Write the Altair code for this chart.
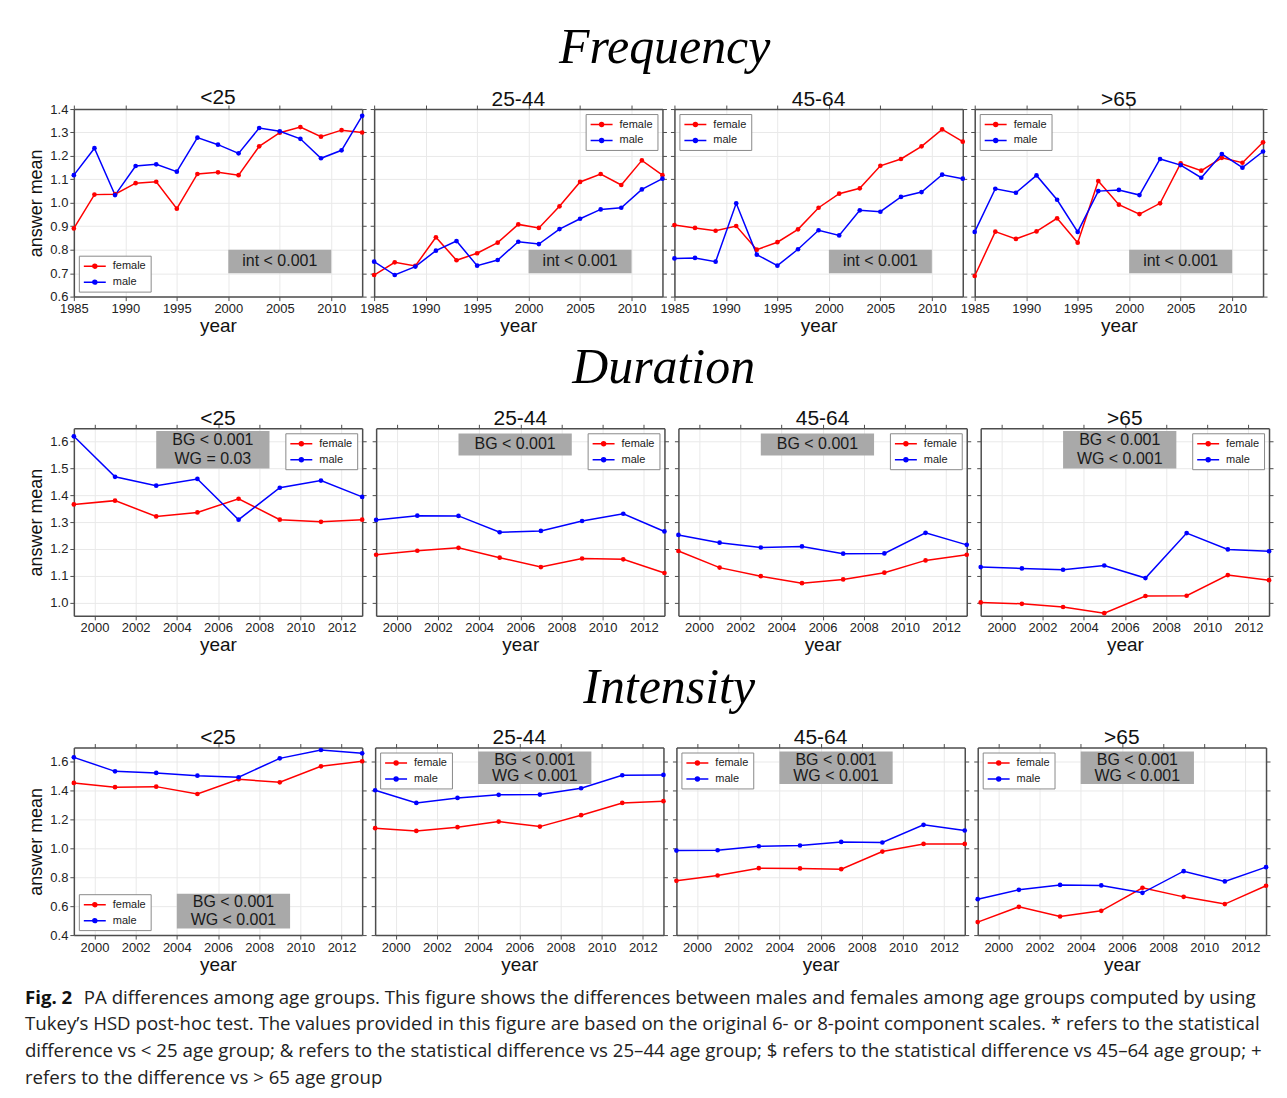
import altair as alt
import pandas as pd

AGE_GROUPS = ["<25", "25-44", "45-64", ">65"]
SEXES = ["female", "male"]
COLORS = ["#ff0000", "#0000ff"]

# ---------------- Frequency ----------------
freq_years = [1985, 1987, 1989, 1991, 1993, 1995, 1997, 1999, 2001, 2003, 2005, 2007, 2009, 2011, 2013]
freq_lt25_female = [0.891, 1.035, 1.037, 1.084, 1.090, 0.975, 1.123, 1.130, 1.118, 1.241, 1.299, 1.323, 1.282, 1.310, 1.300]
freq_lt25_male = [1.118, 1.233, 1.033, 1.157, 1.164, 1.133, 1.278, 1.248, 1.211, 1.319, 1.305, 1.273, 1.190, 1.224, 1.371]
freq_25_44_female = [0.692, 0.746, 0.731, 0.853, 0.755, 0.785, 0.830, 0.908, 0.893, 0.985, 1.089, 1.123, 1.076, 1.181, 1.118]
freq_25_44_male = [0.749, 0.692, 0.728, 0.796, 0.837, 0.732, 0.756, 0.834, 0.824, 0.888, 0.932, 0.972, 0.979, 1.057, 1.103]
freq_45_64_female = [0.905, 0.893, 0.881, 0.901, 0.800, 0.832, 0.887, 0.979, 1.039, 1.062, 1.158, 1.187, 1.241, 1.313, 1.261]
freq_45_64_male = [0.763, 0.765, 0.749, 0.998, 0.779, 0.732, 0.802, 0.883, 0.861, 0.968, 0.962, 1.025, 1.046, 1.120, 1.103]
freq_gt65_female = [0.688, 0.877, 0.846, 0.878, 0.934, 0.830, 1.093, 0.992, 0.952, 0.998, 1.168, 1.137, 1.192, 1.171, 1.258]
freq_gt65_male = [0.876, 1.060, 1.043, 1.117, 1.013, 0.876, 1.050, 1.055, 1.033, 1.187, 1.161, 1.107, 1.208, 1.150, 1.219]
freq_xticks = [1985, 1990, 1995, 2000, 2005, 2010]
freq_yticks = [0.6, 0.7, 0.8, 0.9, 1.0, 1.1, 1.2, 1.3, 1.4]
freq_legend = ["bottom-left", "top-right", "top-left", "top-left"]
freq_note = ["int < 0.001", "int < 0.001", "int < 0.001", "int < 0.001"]
freq_note_x = [2000, 2010]
freq_note_y0 = [0.7, 0.7, 0.7, 0.7]
freq_note_y1 = [0.8, 0.8, 0.8, 0.8]

# ---------------- Duration ----------------
dur_years = [1999, 2001, 2003, 2005, 2007, 2009, 2011, 2013]
dur_lt25_female = [1.366, 1.380, 1.321, 1.336, 1.387, 1.309, 1.301, 1.309]
dur_lt25_male = [1.620, 1.469, 1.436, 1.461, 1.309, 1.428, 1.455, 1.394]
dur_25_44_female = [1.178, 1.193, 1.204, 1.167, 1.132, 1.164, 1.161, 1.110]
dur_25_44_male = [1.308, 1.324, 1.323, 1.262, 1.267, 1.304, 1.331, 1.265]
dur_45_64_female = [1.192, 1.130, 1.098, 1.072, 1.086, 1.111, 1.157, 1.178]
dur_45_64_male = [1.252, 1.223, 1.205, 1.209, 1.182, 1.183, 1.260, 1.215]
dur_gt65_female = [1.000, 0.995, 0.983, 0.960, 1.024, 1.025, 1.102, 1.083]
dur_gt65_male = [1.132, 1.127, 1.122, 1.138, 1.091, 1.259, 1.198, 1.191]
dur_xticks = [2000, 2002, 2004, 2006, 2008, 2010, 2012]
dur_yticks = [1.0, 1.1, 1.2, 1.3, 1.4, 1.5, 1.6]
dur_legend = ["top-right", "top-right", "top-right", "top-right"]
dur_note = ["BG < 0.001\nWG = 0.03", "BG < 0.001", "BG < 0.001", "BG < 0.001\nWG < 0.001"]
dur_note_x = [2003, 2008.5]
dur_note_y0 = [1.500, 1.548, 1.548, 1.500]
dur_note_y1 = [1.640, 1.631, 1.631, 1.640]

# ---------------- Intensity ----------------
int_years = [1999, 2001, 2003, 2005, 2007, 2009, 2011, 2013]
int_lt25_female = [1.455, 1.425, 1.429, 1.378, 1.480, 1.459, 1.570, 1.605]
int_lt25_male = [1.632, 1.535, 1.524, 1.505, 1.494, 1.625, 1.683, 1.660]
int_25_44_female = [1.141, 1.122, 1.148, 1.187, 1.152, 1.231, 1.316, 1.328]
int_25_44_male = [1.404, 1.316, 1.351, 1.372, 1.374, 1.418, 1.508, 1.510]
int_45_64_female = [0.776, 0.813, 0.864, 0.862, 0.857, 0.979, 1.032, 1.032]
int_45_64_male = [0.986, 0.988, 1.016, 1.021, 1.046, 1.042, 1.164, 1.125]
int_gt65_female = [0.490, 0.596, 0.529, 0.568, 0.728, 0.665, 0.615, 0.742]
int_gt65_male = [0.649, 0.714, 0.748, 0.744, 0.693, 0.843, 0.772, 0.871]
int_xticks = [2000, 2002, 2004, 2006, 2008, 2010, 2012]
int_yticks = [0.4, 0.6, 0.8, 1.0, 1.2, 1.4, 1.6]
int_legend = ["bottom-left", "top-left", "top-left", "top-left"]
int_note = ["BG < 0.001\nWG < 0.001"] * 4
int_note_x = [2004, 2009.5]
int_note_y0 = [0.446, 1.448, 1.448, 1.448]
int_note_y1 = [0.686, 1.672, 1.672, 1.672]

caption_bold = "Fig. 2"
caption_line1 = ("PA differences among age groups. This figure shows the differences between males "
                 "and females among age groups computed by using")
caption_rest = [
    "Tukey\u2019s HSD post-hoc test. The values provided in this figure are based on the original 6- or "
    "8-point component scales. * refers to the statistical",
    "difference vs < 25 age group; & refers to the statistical difference vs 25\u201344 age group; "
    "$ refers to the statistical difference vs 45\u201364 age group; +",
    "refers to the difference vs > 65 age group",
]

LEGEND_SYMBOL = "M-1,0L3,0M0.64,0A0.36,0.36,0,1,1,1.36,0A0.36,0.36,0,1,1,0.64,0"
FRAME = "#4d4d4d"
PW, PH = 289, 188


def panel(title, years, female, male, xdom, xticks, ydom, yticks, yfmt,
          legend_orient, note, nx, ny0, ny1, first):
    n = len(years)
    df = pd.DataFrame({
        "year": years + years,
        "mean": female + male,
        "sex": ["female"] * n + ["male"] * n,
    })
    xs = alt.Scale(domain=xdom, nice=False, zero=False)
    ys = alt.Scale(domain=ydom, nice=False, zero=False)
    cs = alt.Scale(domain=SEXES, range=COLORS)
    base = alt.Chart(df)

    lines = base.mark_line(strokeWidth=1.5, clip=False).encode(
        x=alt.X("year:Q", scale=xs,
                axis=alt.Axis(values=xticks, format="d", title="year", grid=True,
                              domain=True, orient="bottom", labelFlush=False,
                              titlePadding=1)),
        y=alt.Y("mean:Q", scale=ys,
                axis=alt.Axis(values=yticks, format=yfmt, grid=True, domain=True,
                              orient="left", labels=first,
                              title="answer mean" if first else None,
                              titleFontSize=18, titlePadding=4)),
        color=alt.Color("sex:N", scale=cs,
                        legend=alt.Legend(title=None, orient=legend_orient, offset=5,
                                          padding=4, fillColor="white", strokeColor="#8a8a8a",
                                          symbolType=LEGEND_SYMBOL, symbolSize=121,
                                          symbolStrokeWidth=1.5, labelFontSize=11,
                                          labelColor="#222", labelOffset=17, rowPadding=4)),
    )
    points = base.mark_circle(size=22, opacity=1, clip=False).encode(
        x=alt.X("year:Q", scale=xs,
                axis=alt.Axis(values=xticks, orient="top", labels=False, grid=False,
                              domain=True, title=None)),
        y=alt.Y("mean:Q", scale=ys,
                axis=alt.Axis(values=yticks, orient="right", labels=False, grid=False,
                              domain=True, title=None)),
        color=alt.Color("sex:N", scale=cs, legend=None),
    )
    bdf = pd.DataFrame({"x0": [nx[0]], "x1": [nx[1]], "y0": [ny0], "y1": [ny1]})
    box = alt.Chart(bdf).mark_rect(color="#a9a9a9", opacity=1).encode(
        x=alt.X("x0:Q", scale=xs, axis=None), x2="x1",
        y=alt.Y("y0:Q", scale=ys, axis=None), y2="y1",
    )
    note_lines = note.split("\n")
    k = len(note_lines)
    step = (ny1 - ny0) / k
    tdf = pd.DataFrame({
        "cx": [(nx[0] + nx[1]) / 2] * k,
        "cy": [ny1 - (j + 0.5) * step for j in range(k)],
        "label": note_lines,
    })
    txt = alt.Chart(tdf).mark_text(fontSize=16, color="#1a1a1a",
                                   align="center", baseline="middle").encode(
        x=alt.X("cx:Q", scale=xs, axis=None),
        y=alt.Y("cy:Q", scale=ys, axis=None),
        text="label:N",
    )
    return alt.layer(lines, points, box, txt).resolve_axis(
        x="independent", y="independent"
    ).properties(
        width=PW, height=PH,
        title=alt.TitleParams(text=title, fontSize=21, fontWeight="normal",
                              color="#111", offset=-5),
    )


def row(name, years, fem_lists, male_lists, xdom, xticks, ydom, yticks, yfmt,
        legends, notes, nx, ny0s, ny1s, spacing, title_dx):
    panels = []
    for i, age in enumerate(AGE_GROUPS):
        panels.append(panel(age, years, fem_lists[i], male_lists[i], xdom, xticks,
                            ydom, yticks, yfmt, legends[i], notes[i], nx,
                            ny0s[i], ny1s[i], i == 0))
    return alt.hconcat(*panels, spacing=spacing, bounds="flush").resolve_scale(
        color="independent"
    ).resolve_legend(color="independent").properties(
        title=alt.TitleParams(text=name, font="Liberation Serif", fontStyle="italic",
                              fontWeight="normal", fontSize=50, color="#000",
                              anchor="middle", offset=14, dx=title_dx)
    )


freq_row = row("Frequency", freq_years,
               [freq_lt25_female, freq_25_44_female, freq_45_64_female, freq_gt65_female],
               [freq_lt25_male, freq_25_44_male, freq_45_64_male, freq_gt65_male],
               [1985, 2013], freq_xticks, [0.6, 1.4], freq_yticks, ".1f",
               freq_legend, freq_note, freq_note_x, freq_note_y0, freq_note_y1, 12, 17)
dur_row = row("Duration", dur_years,
              [dur_lt25_female, dur_25_44_female, dur_45_64_female, dur_gt65_female],
              [dur_lt25_male, dur_25_44_male, dur_45_64_male, dur_gt65_male],
              [1999, 2013], dur_xticks, [0.95, 1.65], dur_yticks, ".1f",
              dur_legend, dur_note, dur_note_x, dur_note_y0, dur_note_y1, 14, 13)
int_row = row("Intensity", int_years,
              [int_lt25_female, int_25_44_female, int_45_64_female, int_gt65_female],
              [int_lt25_male, int_25_44_male, int_45_64_male, int_gt65_male],
              [1999, 2013], int_xticks, [0.4, 1.7], int_yticks, ".1f",
              int_legend, int_note, int_note_x, int_note_y0, int_note_y1, 13, 20)

cap_scale = alt.Scale(domain=[3, -0.55])
cap_bold = alt.Chart(pd.DataFrame({"row": [0], "text": [caption_bold]})).mark_text(
    align="left", baseline="middle", fontSize=18.7, font="Open Sans",
    fontWeight="bold", color="#111").encode(
    x=alt.value(-49), y=alt.Y("row:Q", scale=cap_scale, axis=None), text="text:N")
cap_first = alt.Chart(pd.DataFrame({"row": [0], "text": [caption_line1]})).mark_text(
    align="left", baseline="middle", fontSize=18.7, font="Open Sans", color="#222").encode(
    x=alt.value(10), y=alt.Y("row:Q", scale=cap_scale, axis=None), text="text:N")
cap_others = alt.Chart(pd.DataFrame({"row": [1, 2, 3], "text": caption_rest})).mark_text(
    align="left", baseline="middle", fontSize=18.7, font="Open Sans", color="#222").encode(
    x=alt.value(-49), y=alt.Y("row:Q", scale=cap_scale, axis=None), text="text:N")
caption = alt.layer(cap_bold, cap_first, cap_others).properties(width=1190, height=95)

chart = alt.vconcat(freq_row, dur_row, int_row, caption, spacing=7).resolve_scale(
    color="independent"
).resolve_legend(color="independent").properties(
    padding={"left": 16, "top": 13, "right": 5, "bottom": 5}
).configure(font="Liberation Sans").configure_view(
    stroke="transparent"
).configure_axis(
    labelFontSize=13, labelColor="#222", titleFontSize=19, titleFontWeight="normal",
    titleColor="#111", tickColor=FRAME, tickSize=4, tickWidth=1, domainColor=FRAME,
    domainWidth=1.5, gridColor="#e9e9e9", gridWidth=1, labelPadding=2,
)

chart.save("out.html", embed_options={"renderer": "svg", "actions": False})
